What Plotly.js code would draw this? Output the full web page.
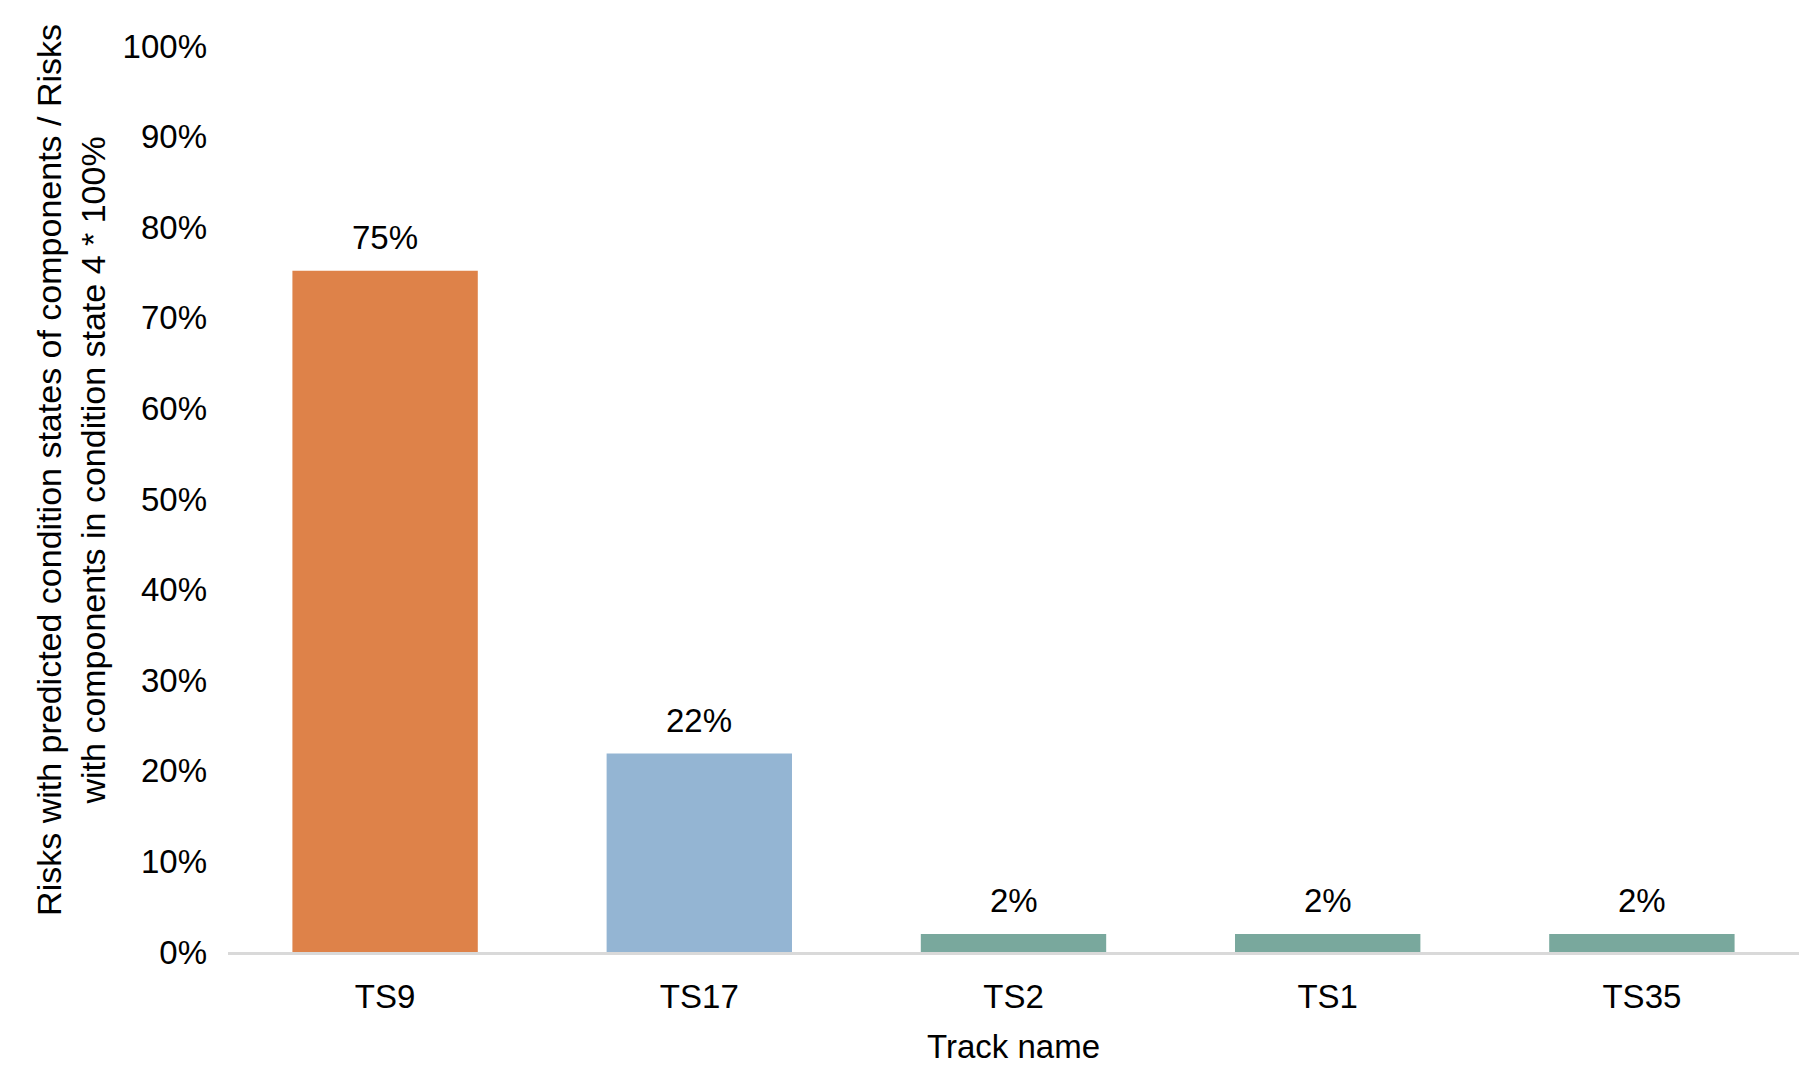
<!DOCTYPE html>
<html>
<head>
<meta charset="utf-8">
<script src="https://cdn.plot.ly/plotly-3.0.1.min.js"></script>
<style>html,body{margin:0;padding:0;background:#fff;}#chart{width:1818px;height:1083px;}</style>
</head>
<body>
<div id="chart"></div>
<script>
var categories = ["TS9", "TS17", "TS2", "TS1", "TS35"];
var values = [0.752, 0.219, 0.020, 0.020, 0.020];
var labels = ["75%", "22%", "2%", "2%", "2%"];
var barColors = ["#DE8249", "#94B5D3", "#79A89D", "#79A89D", "#79A89D"];
var xTitle = "Track name";
var yTitle = "Risks with predicted condition states of components / Risks<br>with components in condition state 4 * 100%";

var FONT = "Liberation Sans, Arial, sans-serif";

var trace = {
  type: "bar",
  x: categories,
  y: values,
  marker: {color: barColors},
  hoverinfo: "x+y"
};

var annotations = categories.map(function (c, i) {
  return {
    x: c, y: values[i], xref: "x", yref: "y",
    text: labels[i], showarrow: false,
    yanchor: "bottom", yshift: 13,
    font: {family: FONT, size: 33, color: "#000"}
  };
});
annotations.push({
  xref: "paper", yref: "paper", x: -0.1, y: 0.532,
  xanchor: "center", yanchor: "middle",
  text: yTitle, textangle: -90, showarrow: false,
  font: {family: FONT, size: 34, color: "#000"}
});

var layout = {
  width: 1818, height: 1083,
  margin: {l: 228, r: 19, t: 46, b: 131},
  paper_bgcolor: "#fff", plot_bgcolor: "#fff",
  font: {family: FONT, size: 33, color: "#000"},
  bargap: 0.41,
  showlegend: false,
  xaxis: {
    type: "category",
    showline: true, linecolor: "#D9D9D9", linewidth: 3,
    showgrid: false, zeroline: false, ticks: "",
    ticklabelstandoff: 13,
    tickfont: {family: FONT, size: 33, color: "#000"},
    title: {text: xTitle, font: {family: FONT, size: 33, color: "#000"}, standoff: 22}
  },
  yaxis: {
    range: [0, 1], dtick: 0.1, tick0: 0, tickformat: ".0%",
    showgrid: false, zeroline: false, showline: false, ticks: "",
    ticklabelstandoff: 20,
    tickfont: {family: FONT, size: 33, color: "#000"}
  },
  annotations: annotations
};

Plotly.newPlot("chart", [trace], layout, {displayModeBar: false, staticPlot: true});
</script>
</body>
</html>
